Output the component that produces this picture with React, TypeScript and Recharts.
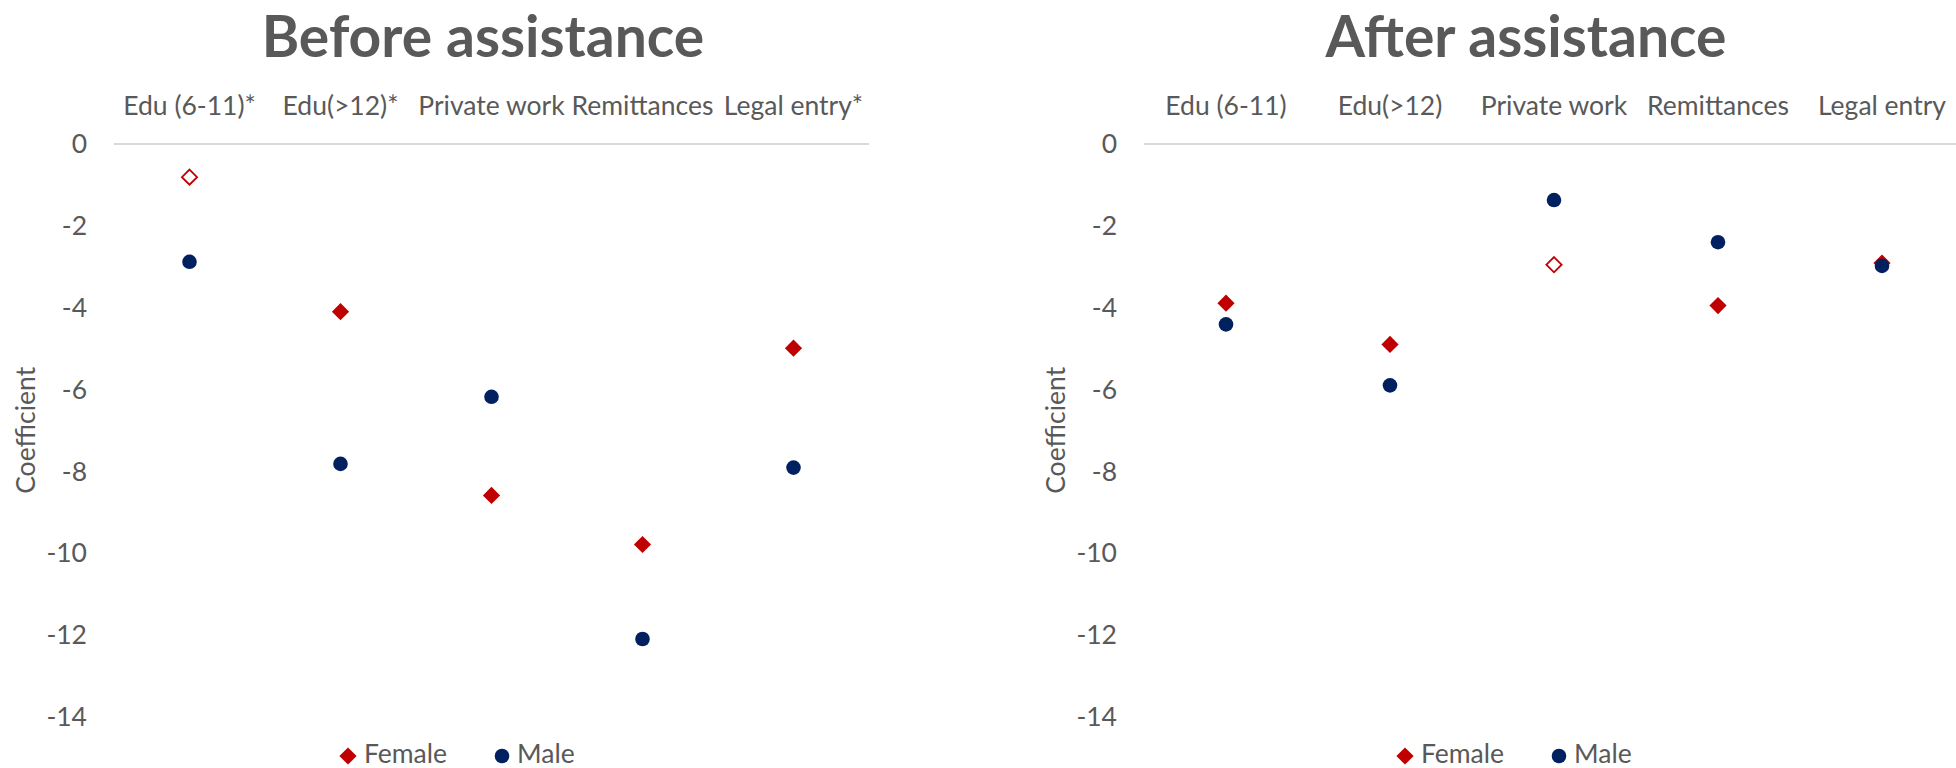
import { ComposedChart, Scatter, XAxis, YAxis } from "recharts";

// coefficient estimates, female / male, per outcome
const beforeCategories = ["Edu (6-11)*", "Edu(>12)*", "Private work", "Remittances", "Legal entry*"];
const beforeFemale = [-0.81, -4.1, -8.59, -9.79, -4.99];
const beforeMale = [-2.88, -7.82, -6.18, -12.1, -7.91];
const beforeFemaleHollow = [true, false, false, false, false];

const afterCategories = ["Edu (6-11)", "Edu(>12)", "Private work", "Remittances", "Legal entry"];
const afterFemale = [-3.89, -4.9, -2.95, -3.95, -2.91];
const afterMale = [-4.41, -5.9, -1.37, -2.4, -2.98];
const afterFemaleHollow = [false, false, true, false, false];

const yTicks = [0, -2, -4, -6, -8, -10, -12, -14];
const seriesNames = ["Female", "Male"];

const RED = "#C00000";
const NAVY = "#002060";
const TEXT = "#595959";
const FONT = "Lato, 'Open Sans', sans-serif";
const LABEL_SIZE = 26.5;

function FemaleMarker(props: any) {
  const { cx, cy, payload } = props;
  if (cx == null || cy == null) return null;
  const r = payload && payload.hollow ? 7.6 : 8.6;
  const pts = `${cx},${cy - r} ${cx + r},${cy} ${cx},${cy + r} ${cx - r},${cy}`;
  if (payload && payload.hollow) {
    return <polygon points={pts} fill="#fff" stroke={RED} strokeWidth={1.8} />;
  }
  return <polygon points={pts} fill={RED} />;
}

function MaleMarker(props: any) {
  const { cx, cy } = props;
  if (cx == null || cy == null) return null;
  return <circle cx={cx} cy={cy} r={7.3} fill={NAVY} />;
}

function YLabel(props: any) {
  const vb = props.viewBox || {};
  const x = (vb.x || 0) + 25;
  const y = (vb.y || 0) + (vb.height || 0) / 2;
  return (
    <text
      x={x}
      y={y}
      transform={`rotate(-90 ${x} ${y})`}
      textAnchor="middle"
      dominantBaseline="central"
      fill={TEXT}
      fontSize={LABEL_SIZE}
      fontFamily={FONT}
    >
      Coefficient
    </text>
  );
}

type PanelProps = {
  categories: string[];
  female: number[];
  male: number[];
  hollow: boolean[];
  left: number;
  plotWidth: number;
};

function Panel({ categories, female, male, hollow, left, plotWidth }: PanelProps) {
  const data = categories.map((name, i) => ({
    name,
    female: female[i],
    male: male[i],
    hollow: hollow[i],
  }));
  // half a category slot on each side so the markers sit mid-slot
  const half = plotWidth / categories.length / 2;
  return (
    <div style={{ position: "absolute", left, top: 0 }}>
      <ComposedChart
        width={114 + plotWidth + 1}
        height={768}
        data={data}
        margin={{ top: 0, right: 1, left: 0, bottom: 51.3 }}
      >
        <XAxis
          dataKey="name"
          type="category"
          orientation="top"
          height={144}
          interval={0}
          padding={{ left: half, right: half }}
          axisLine={{ stroke: "#D9D9D9", strokeWidth: 2 }}
          tickLine={false}
          tickSize={0}
          tickMargin={29}
          tick={{ fill: TEXT, fontSize: LABEL_SIZE, fontFamily: FONT }}
        />
        <YAxis
          type="number"
          domain={[-14, 0]}
          ticks={yTicks}
          interval={0}
          width={114}
          axisLine={false}
          tickLine={false}
          tickSize={0}
          tickMargin={27}
          tick={{ fill: TEXT, fontSize: LABEL_SIZE, fontFamily: FONT }}
          label={{ content: (p: any) => <YLabel {...p} /> }}
        />
        <Scatter
          name={seriesNames[0]}
          dataKey="female"
          fill={RED}
          shape={(p: any) => <FemaleMarker {...p} />}
          isAnimationActive={false}
        />
        <Scatter
          name={seriesNames[1]}
          dataKey="male"
          fill={NAVY}
          shape={(p: any) => <MaleMarker {...p} />}
          isAnimationActive={false}
        />
      </ComposedChart>
    </div>
  );
}

function Legend({ x }: { x: number }) {
  const y = 756;
  const maleX = x + 154;
  return (
    <g fontFamily={FONT} fontSize={LABEL_SIZE} fill={TEXT}>
      <polygon points={`${x},${y - 8.6} ${x + 8.6},${y} ${x},${y + 8.6} ${x - 8.6},${y}`} fill={RED} />
      <text x={x + 16} y={763}>{seriesNames[0]}</text>
      <circle cx={maleX} cy={y} r={7.3} fill={NAVY} />
      <text x={maleX + 15} y={763}>{seriesNames[1]}</text>
    </g>
  );
}

export default function App() {
  return (
    <div
      style={{
        position: "absolute",
        left: 0,
        top: 0,
        width: 1956,
        height: 768,
        overflow: "hidden",
        background: "#fff",
      }}
    >
      <Panel
        categories={beforeCategories}
        female={beforeFemale}
        male={beforeMale}
        hollow={beforeFemaleHollow}
        left={0}
        plotWidth={755}
      />
      <Panel
        categories={afterCategories}
        female={afterFemale}
        male={afterMale}
        hollow={afterFemaleHollow}
        left={1030}
        plotWidth={820}
      />
      <svg
        width={1956}
        height={768}
        style={{ position: "absolute", left: 0, top: 0, pointerEvents: "none" }}
      >
        <g fontFamily={FONT} fontWeight={700} fontSize={57} fill={TEXT} textAnchor="middle">
          <text x={483} y={57}>Before assistance</text>
          <text x={1526} y={57}>After assistance</text>
        </g>
        <Legend x={348} />
        <Legend x={1405} />
      </svg>
    </div>
  );
}
